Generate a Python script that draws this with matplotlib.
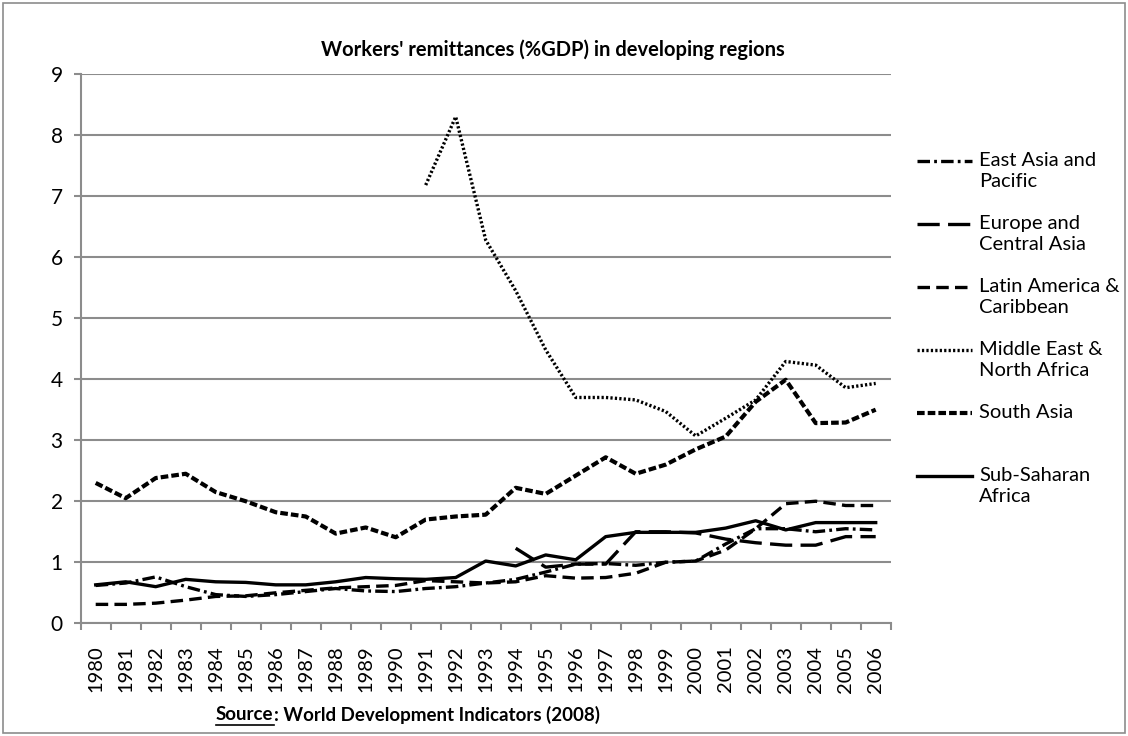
import numpy as np
import matplotlib
matplotlib.use("Agg")
import matplotlib.pyplot as plt
from matplotlib.lines import Line2D
from matplotlib.patches import Rectangle

years = [str(y) for y in range(1980, 2007)]
nan = np.nan

east_asia = [0.62, 0.66, 0.76, 0.60, 0.47, 0.44, 0.47, 0.52, 0.57, 0.53, 0.52, 0.57, 0.60,
             0.66, 0.72, 0.84, 0.97, 0.98, 0.95, 1.00, 1.02, 1.30, 1.55, 1.55, 1.50, 1.55, 1.53]
europe = [nan] * 14 + [1.23, 0.92, 0.97, 0.97, 1.50, 1.50, 1.48, 1.38, 1.32, 1.28, 1.28, 1.42, 1.42]
latin = [0.31, 0.31, 0.33, 0.38, 0.44, 0.45, 0.50, 0.54, 0.58, 0.60, 0.62, 0.70, 0.68,
         0.66, 0.68, 0.78, 0.74, 0.75, 0.82, 1.00, 1.02, 1.20, 1.55, 1.96, 2.00, 1.93, 1.93]
mena = [nan] * 11 + [7.18, 8.30, 6.28, 5.45, 4.48, 3.70, 3.70, 3.66, 3.47, 3.07, 3.36, 3.66,
                     4.29, 4.23, 3.86, 3.93]
south_asia = [2.30, 2.05, 2.38, 2.45, 2.15, 2.00, 1.82, 1.75, 1.47, 1.57, 1.41, 1.70, 1.75,
              1.78, 2.22, 2.12, 2.42, 2.72, 2.45, 2.60, 2.85, 3.06, 3.63, 3.99, 3.28, 3.29, 3.50]
ssa = [0.63, 0.68, 0.60, 0.72, 0.68, 0.67, 0.63, 0.63, 0.68, 0.75, 0.73, 0.72, 0.75,
       1.02, 0.94, 1.12, 1.04, 1.42, 1.49, 1.49, 1.49, 1.56, 1.68, 1.53, 1.65, 1.65, 1.65]

labels = ["East Asia and\nPacific", "Europe and\nCentral Asia", "Latin America &\nCaribbean",
          "Middle East &\nNorth Africa", "South Asia", "Sub-Saharan\nAfrica"]

plt.rcParams["font.family"] = ["Lato", "DejaVu Sans"]
plt.rcParams["lines.scale_dashes"] = False

# (series, linestyle, linewidth)
styles = [
    (east_asia, (0, (9, 3, 2, 3)), 2.4),
    (europe, (0, (16, 6)), 2.4),
    (latin, (0, (9, 4.5)), 2.4),
    (mena, (0, (1.6, 1.6)), 2.4),
    (south_asia, (0, (5.5, 2.2)), 3.0),
    (ssa, "-", 2.4),
]

W, H = 1128, 736
fig = plt.figure(figsize=(W / 100, H / 100), dpi=100)
ax = fig.add_axes([80.7 / W, 1 - 623.3 / H, 810 / W, (623.3 - 74) / H])

x = np.arange(len(years))
for data, ls, lw in styles:
    ax.plot(x, data, color="black", linestyle=ls, linewidth=lw,
            dash_capstyle="butt", solid_joinstyle="round", zorder=3)

grid_c = "#8c8c8c"
ax.set_xlim(-0.5, len(years) - 0.5)
ax.set_ylim(0, 9)
ax.set_yticks(range(10))
ax.yaxis.grid(True, color=grid_c, linewidth=1.5)
ax.set_axisbelow(True)
ax.set_xticks(x)
ax.set_xticklabels(years, rotation=90, fontsize=14.5)
ax.set_xticks(np.arange(-0.5, len(years)), minor=True)
ax.tick_params(axis="x", which="major", length=0, pad=16)
ax.tick_params(axis="x", which="minor", length=5, width=1.5, color=grid_c)
ax.tick_params(axis="y", length=5, width=1.5, color=grid_c, pad=8, labelsize=15)
for side in ("top", "right"):
    ax.spines[side].set_visible(False)
for side in ("left", "bottom"):
    ax.spines[side].set_color(grid_c)
    ax.spines[side].set_linewidth(1.5)

fig.text(0.49, 1 - 50 / H, "Workers' remittances (%GDP) in developing regions",
         ha="center", va="center", fontsize=14.5, fontweight="bold")

# legend entries stacked on the right
for k, ((data, ls, lw), lab) in enumerate(zip(styles, labels)):
    yk = 1 - (161 + 63 * k) / H
    fig.add_artist(Line2D([917 / W, 972 / W], [yk, yk], transform=fig.transFigure,
                          color="black", linestyle=ls, linewidth=lw, dash_capstyle="butt"))
    fig.text(979 / W, yk + 9 / H, lab, ha="left", va="top", fontsize=14.5, linespacing=1.3)

# source line with underlined prefix
src = fig.text(216 / W, 1 - 715 / H, "Source", ha="left", va="center",
               fontsize=13.5, fontweight="bold")
fig.canvas.draw()
bb = src.get_window_extent()
fig.add_artist(Line2D([bb.x0 / W, bb.x1 / W], [(bb.y0 - 1) / H, (bb.y0 - 1) / H],
                      transform=fig.transFigure, color="black", linewidth=1.2))
fig.text(bb.x1 / W, 1 - 715 / H, ": World Development Indicators (2008)", ha="left",
         va="center", fontsize=13.5, fontweight="bold")

fig.add_artist(Rectangle((3 / W, 3 / H), 1 - 6 / W, 1 - 6 / H, transform=fig.transFigure,
                         fill=False, edgecolor="#8c8c8c", linewidth=1.2))

fig.savefig("out.png", dpi=100)
